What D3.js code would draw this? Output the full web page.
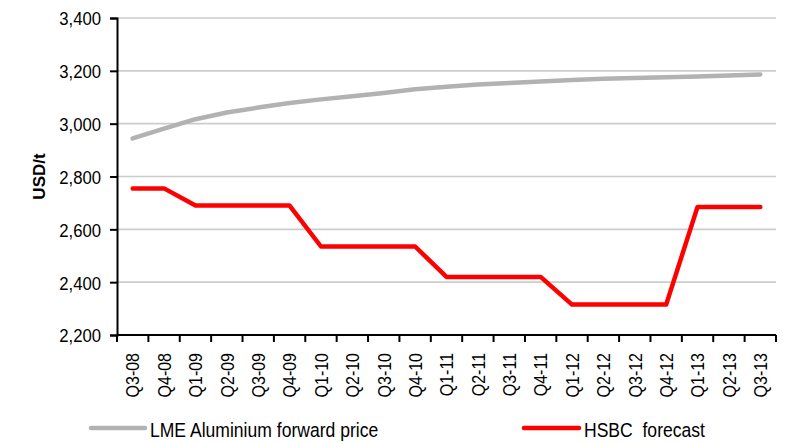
<!DOCTYPE html>
<html>
<head>
<meta charset="utf-8">
<script src="https://cdn.jsdelivr.net/npm/d3@7"></script>
<style>
  html, body { margin: 0; padding: 0; background: #fff; }
  svg { display: block; }
  text { font-family: "Liberation Sans", Arial, sans-serif; fill: #000; }
</style>
</head>
<body>
<svg id="chart" width="785" height="442"></svg>
<script>
// Quarterly periods
const quarters = ["Q3-08","Q4-08","Q1-09","Q2-09","Q3-09","Q4-09","Q1-10","Q2-10","Q3-10","Q4-10",
  "Q1-11","Q2-11","Q3-11","Q4-11","Q1-12","Q2-12","Q3-12","Q4-12","Q1-13","Q2-13","Q3-13"];

// LME aluminium forward curve (USD/t)
const lmeForward = [2944, 2981, 3017, 3042, 3061, 3078, 3092, 3104, 3116, 3130,
  3140, 3148, 3154, 3160, 3165, 3170, 3173, 3176, 3179, 3182, 3186];

// HSBC forecast (USD/t)
const hsbcForecast = [2755, 2755, 2690, 2690, 2690, 2690, 2535, 2535, 2535, 2535,
  2420, 2420, 2420, 2420, 2315, 2315, 2315, 2315, 2685, 2685, 2685];

const yTicks = [2200, 2400, 2600, 2800, 3000, 3200, 3400];

const seriesNames = ["LME Aluminium forward price", "HSBC  forecast"];
const seriesColors = ["#b2b2b2", "#ff0000"];

const W = 785, H = 442;
const margin = { top: 18, right: 9, bottom: 107, left: 117 };

const svg = d3.select("#chart");

const x = d3.scaleBand().domain(quarters).range([margin.left, W - margin.right]).padding(0);
const y = d3.scaleLinear().domain([2200, 3400]).range([H - margin.bottom, margin.top]);
const cx = d => x(d) + x.bandwidth() / 2;

// horizontal gridlines
svg.append("g")
  .selectAll("line")
  .data(yTicks.filter(t => t > 2200))
  .join("line")
  .attr("x1", margin.left).attr("x2", W - margin.right)
  .attr("y1", d => y(d)).attr("y2", d => y(d))
  .attr("stroke", "#cccccc").attr("stroke-width", 1.6);

// y axis
const ySq = 0.88;
const yAxis = svg.append("g")
  .attr("transform", `translate(${margin.left},0)`)
  .call(d3.axisLeft(y).tickValues(yTicks).tickFormat(d3.format(",")).tickSize(7).tickPadding(0));
yAxis.select(".domain").attr("stroke", "#000").attr("stroke-width", 2);
yAxis.selectAll(".tick line").attr("stroke", "#000").attr("stroke-width", 2);
yAxis.selectAll(".tick text")
  .attr("font-size", 19)
  .attr("x", -16 / ySq)
  .attr("dy", "0.36em")
  .attr("transform", `scale(${ySq},1)`)
  .attr("font-family", null);

// x axis: labels centred on each band, ticks on band boundaries
const xSq = 0.85;
const xAxis = svg.append("g")
  .attr("transform", `translate(0,${H - margin.bottom})`)
  .call(d3.axisBottom(x).tickSize(0).tickPadding(0));
xAxis.select(".domain").remove();
xAxis.selectAll(".tick text")
  .attr("font-size", 18.8)
  .attr("font-family", null)
  .attr("text-anchor", "end")
  .attr("x", -18 / xSq)
  .attr("y", 0)
  .attr("dy", "0.36em")
  .attr("transform", `rotate(-90) scale(${xSq},1)`);

const boundaries = quarters.map(q => x(q)).concat([x.range()[1]]);
xAxis.append("line")
  .attr("x1", margin.left).attr("x2", W - margin.right)
  .attr("stroke", "#000").attr("stroke-width", 2);
xAxis.selectAll(".btick")
  .data(boundaries)
  .join("line")
  .attr("class", "btick")
  .attr("x1", d => d).attr("x2", d => d)
  .attr("y1", 0).attr("y2", 7)
  .attr("stroke", "#000").attr("stroke-width", 2);

// y axis title
svg.append("text")
  .attr("transform", `translate(45,${(margin.top + H - margin.bottom) / 2}) rotate(-90)`)
  .attr("text-anchor", "middle")
  .attr("font-size", 17)
  .attr("font-weight", "bold")
  .text("USD/t");

// series lines
const line = d3.line().x((d, i) => cx(quarters[i])).y(d => y(d));
[lmeForward, hsbcForecast].forEach((vals, k) => {
  svg.append("path")
    .datum(vals)
    .attr("fill", "none")
    .attr("stroke", seriesColors[k])
    .attr("stroke-width", 4.5)
    .attr("stroke-linejoin", "round")
    .attr("stroke-linecap", "round")
    .attr("d", line);
});

// legend
const lSq = 0.9;
const legendItems = [
  { x1: 91, x2: 145, tx: 150 },
  { x1: 524, x2: 579, tx: 584 }
];
const legendY = 428;
legendItems.forEach((it, k) => {
  svg.append("line")
    .attr("x1", it.x1).attr("x2", it.x2)
    .attr("y1", legendY).attr("y2", legendY)
    .attr("stroke", seriesColors[k])
    .attr("stroke-width", 4.5)
    .attr("stroke-linecap", "round");
  svg.append("text")
    .attr("x", it.tx / lSq)
    .attr("y", 437)
    .attr("transform", `scale(${lSq},1)`)
    .attr("font-size", 19.5)
    .attr("xml:space", "preserve")
    .style("white-space", "pre")
    .text(seriesNames[k]);
});
</script>
</body>
</html>
